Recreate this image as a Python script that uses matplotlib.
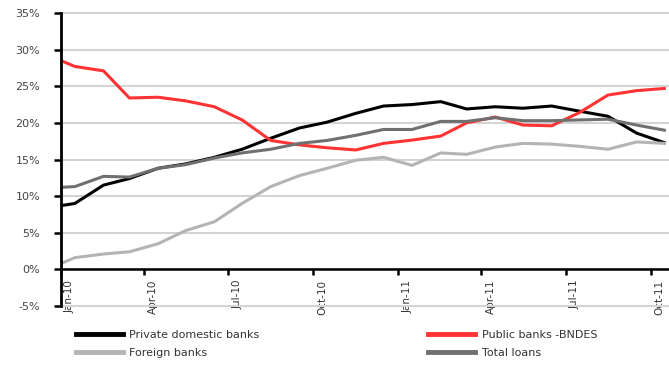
import matplotlib
matplotlib.use("Agg")
import matplotlib.pyplot as plt
import matplotlib.dates as mdates
import matplotlib.transforms as mtransforms
import pandas as pd

# ---- data ----
dates = ["2010-01-01"] + [d.strftime("%Y-%m-16") for d in pd.date_range("2010-01-01", "2011-10-01", freq="MS")]
private_domestic = [8.7, 9.0, 11.5, 12.4, 13.8, 14.4, 15.3, 16.4, 17.9, 19.3, 20.1, 21.3,
                    22.3, 22.5, 22.9, 21.9, 22.2, 22.0, 22.3, 21.6, 20.9, 18.6, 17.3]
public_bndes = [28.5, 27.7, 27.1, 23.4, 23.5, 23.0, 22.2, 20.4, 17.6, 17.0, 16.6, 16.3,
                17.2, 17.65, 18.2, 20.0, 20.8, 19.7, 19.6, 21.4, 23.8, 24.4, 24.7]
foreign = [0.8, 1.6, 2.1, 2.4, 3.5, 5.3, 6.5, 9.0, 11.3, 12.8, 13.8, 14.9,
           15.3, 14.2, 15.9, 15.7, 16.7, 17.2, 17.1, 16.8, 16.4, 17.4, 17.2]
total_loans = [11.2, 11.3, 12.7, 12.6, 13.8, 14.3, 15.2, 15.9, 16.4, 17.2, 17.6, 18.3,
               19.1, 19.1, 20.2, 20.2, 20.7, 20.3, 20.3, 20.4, 20.5, 19.7, 19.0]
yticks = [-5, 0, 5, 10, 15, 20, 25, 30, 35]

x = pd.to_datetime(dates)

fig = plt.figure(figsize=(6.69, 3.65), dpi=100)
ax = fig.add_axes([61/669, 1 - 306/365, 1 - 61/669, (306 - 13)/365])

lw = 2.2
l1, = ax.plot(x, private_domestic, color="#000000", lw=lw, solid_joinstyle="round")
l2, = ax.plot(x, public_bndes, color="#ff3333", lw=lw, solid_joinstyle="round")
l3, = ax.plot(x, foreign, color="#b4b4b4", lw=lw, solid_joinstyle="round")
l4, = ax.plot(x, total_loans, color="#707070", lw=lw, solid_joinstyle="round")

ax.set_ylim(-5, 35)
ax.set_xlim(pd.Timestamp("2010-01-01"), pd.Timestamp("2011-10-21"))
ax.set_yticks(yticks)
ax.set_yticklabels([f"{v}%" for v in yticks])
ax.yaxis.grid(True, color="#d4d4d4", lw=1.5, clip_on=False)
ax.set_axisbelow(True)

for s in ["top", "right"]:
    ax.spines[s].set_visible(False)
ax.spines["left"].set_linewidth(2)
ax.spines["bottom"].set_position(("data", 0))
ax.spines["bottom"].set_linewidth(1.8)

ax.xaxis.set_major_locator(mdates.MonthLocator(bymonth=[1, 4, 7, 10]))
ax.xaxis.set_major_formatter(mdates.DateFormatter("%b-%y"))
ax.tick_params(axis="x", direction="out", length=4, width=1.8, pad=3.5,
               labelsize=7.5, labelcolor="#333333", labelrotation=90)
ax.tick_params(axis="y", direction="out", length=5, width=1.8, pad=10,
               labelsize=8, labelcolor="#444444")
offset = mtransforms.ScaledTranslation(9/100, 0, fig.dpi_scale_trans)
for lab in ax.get_xticklabels():
    lab.set_transform(lab.get_transform() + offset)
    lab.set_verticalalignment("top")

leg = fig.legend([l1, l3, l2, l4],
                 ["Private domestic banks", "Foreign banks", "Public banks -BNDES", "Total loans"],
                 loc="upper left", bbox_to_anchor=(76/669, 1 - 330/365), ncol=2,
                 frameon=False, fontsize=8, handlelength=4.2, handletextpad=0.6,
                 columnspacing=15.2, labelspacing=0.75, borderaxespad=0, borderpad=0)
for t in leg.get_texts():
    t.set_color("#333333")
for h in leg.legend_handles:
    h.set_linewidth(3.5)

fig.savefig("out.png", dpi=100)
